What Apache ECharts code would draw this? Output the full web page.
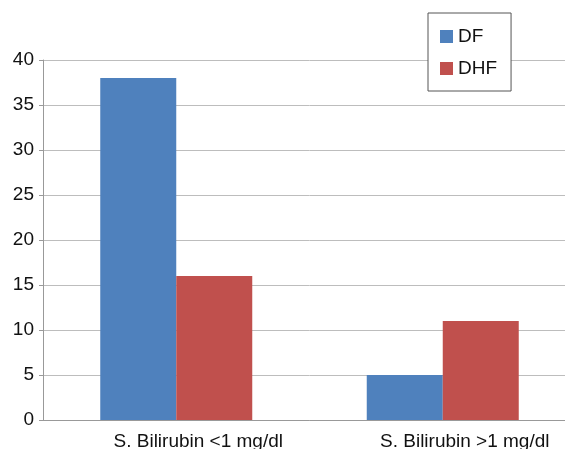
<!DOCTYPE html>
<html><head><meta charset="utf-8">
<script src="https://cdn.jsdelivr.net/npm/echarts@6/dist/echarts.min.js"></script>
<style>html,body{margin:0;padding:0;background:#fff;overflow:hidden}#c{width:576px;height:449px}</style>
</head><body><div id="c"></div>
<script>
var categories = ['S. Bilirubin <1 mg/dl', 'S. Bilirubin >1 mg/dl'];
var dfValues = [38, 5];
var dhfValues = [16, 11];
var yTicks = [0, 5, 10, 15, 20, 25, 30, 35, 40];

var chart = echarts.init(document.getElementById('c'));
chart.setOption({
  animation: false,
  backgroundColor: '#fff',
  textStyle: {fontFamily: 'Liberation Sans, Arial, sans-serif'},
  grid: {left: 43, top: 60, bottom: 29, right: 0, outerBoundsMode: 'none', containLabel: false},
  legend: {
    orient: 'vertical', left: 428, top: 13,
    padding: [14, 14, 13, 12],
    itemGap: 13, itemWidth: 13, itemHeight: 13, icon: 'rect',
    backgroundColor: '#fff', borderColor: '#555', borderWidth: 1,
    textStyle: {fontSize: 19, lineHeight: 19, color: '#111'},
    data: ['DF', 'DHF']
  },
  xAxis: {
    type: 'category', data: categories,
    axisLine: {lineStyle: {color: '#999'}},
    axisTick: {show: false},
    axisLabel: {color: '#111', fontSize: 19, margin: 12, padding: [0, 0, 0, 44]}
  },
  yAxis: {
    type: 'value', min: yTicks[0], max: yTicks[yTicks.length - 1], interval: 5,
    axisLine: {show: true, lineStyle: {color: '#999'}},
    axisTick: {show: true, length: 4, lineStyle: {color: '#999'}},
    axisLabel: {color: '#111', fontSize: 19, margin: 9},
    splitLine: {lineStyle: {color: '#bdbdbd'}}
  },
  series: [
    {name: 'DF', type: 'bar', data: dfValues, barWidth: 76, barGap: '0%', itemStyle: {color: '#4F81BD'}},
    {name: 'DHF', type: 'bar', data: dhfValues, barWidth: 76, itemStyle: {color: '#C0504D'}}
  ]
});
</script></body></html>
